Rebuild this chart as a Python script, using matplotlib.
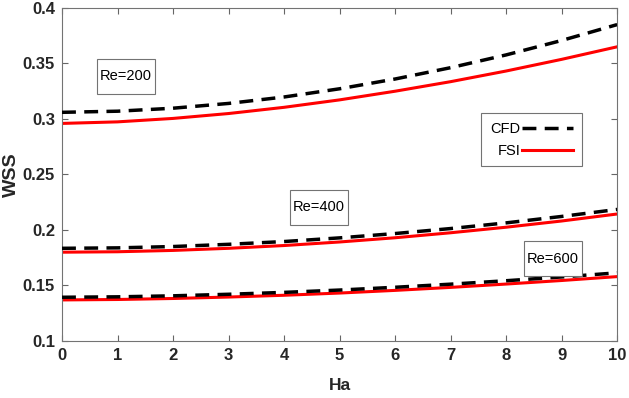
import numpy as np
import matplotlib
matplotlib.use('Agg')
import matplotlib.pyplot as plt
from matplotlib.patches import Rectangle

plt.rcParams['font.family'] = ['Liberation Sans', 'DejaVu Sans']

# ---------- Date ----------
ha = [0, 1, 2, 3, 4, 5, 6, 7, 8, 9, 10]

cfd_200 = [0.306, 0.307, 0.3097, 0.314, 0.3198, 0.3272, 0.336, 0.3462, 0.3577, 0.3707, 0.385]
fsi_200 = [0.296, 0.2974, 0.3005, 0.3049, 0.3105, 0.3172, 0.325, 0.3336, 0.3432, 0.3537, 0.365]

cfd_400 = [0.1835, 0.1839, 0.1851, 0.1871, 0.1896, 0.1929, 0.1968, 0.2013, 0.2064, 0.2122, 0.2185]
fsi_400 = [0.180, 0.1804, 0.1816, 0.1835, 0.186, 0.1892, 0.193, 0.1975, 0.2025, 0.2081, 0.2144]

cfd_600 = [0.1394, 0.1398, 0.1407, 0.1421, 0.1438, 0.1459, 0.1484, 0.1512, 0.1543, 0.1577, 0.1614]
fsi_600 = [0.137, 0.1374, 0.1383, 0.1396, 0.1412, 0.1432, 0.1456, 0.1483, 0.1513, 0.1545, 0.158]

y_ticks = [0.1, 0.15, 0.2, 0.25, 0.3, 0.35, 0.4]
y_tick_labels = ['0.1', '0.15', '0.2', '0.25', '0.3', '0.35', '0.4']
x_ticks = [0, 1, 2, 3, 4, 5, 6, 7, 8, 9, 10]

re_labels = ['Re=200', 'Re=400', 'Re=600']
re_pos = [(1.15, 0.3387), (4.63, 0.2203), (8.84, 0.1739)]

# ---------- Figura ----------
fig = plt.figure(figsize=(6.29, 3.98), dpi=100)
ax = fig.add_axes([0.0986, 0.1432, 0.8825, 0.8368])

dash = (0, (4.0, 2.4))
for cfd, fsi, i in [(cfd_200, fsi_200, 0), (cfd_400, fsi_400, 1), (cfd_600, fsi_600, 2)]:
    ax.plot(ha, fsi, color='red', lw=2.2, label='FSI' if i == 0 else None, zorder=2)
    ax.plot(ha, cfd, color='black', lw=2.5, linestyle=dash,
            label='CFD' if i == 0 else None, zorder=3)

ax.set_xlim(0, 10)
ax.set_ylim(0.1, 0.4)
ax.set_xticks(x_ticks)
ax.set_yticks(y_ticks)
ax.set_yticklabels(y_tick_labels)
for lbl in ax.get_xticklabels() + ax.get_yticklabels():
    lbl.set_fontweight('bold')
    lbl.set_fontsize(12)
ax.tick_params(direction='in', length=4, top=True, right=True,
               color='0.4', labelcolor='0.15', pad=5)
for s in ax.spines.values():
    s.set_color('0.45')
    s.set_linewidth(0.8)

ax.set_xlabel('Ha', fontsize=12.5, fontweight='bold', color='0.15')
ax.xaxis.set_label_coords(0.5, -0.11)
ax.set_ylabel('WSS', fontsize=14, fontweight='bold', color='0.15')
ax.yaxis.set_label_coords(-0.075, 0.5)

# ---------- Etichete Re (casete) ----------
bw, bh = 58 / 55.5, 35 / 1110.0   # dimensiune caseta ~58x35 px
for txt, (cx, cy) in zip(re_labels, re_pos):
    ax.add_patch(Rectangle((cx - bw / 2, cy - bh / 2), bw, bh, facecolor='white',
                           edgecolor='0.45', lw=0.8, zorder=4))
    ax.text(cx, cy, txt, fontsize=10.5, ha='center', va='center', zorder=5)

# ---------- Legenda ----------
handles, labels = ax.get_legend_handles_labels()
order = [labels.index('CFD'), labels.index('FSI')]
leg = ax.legend([handles[k] for k in order], [labels[k] for k in order],
                loc='upper right', bbox_to_anchor=(0.937, 0.685),
                markerfirst=False, fontsize=10.5, handlelength=3.5,
                handletextpad=0.15, labelspacing=0.55, borderpad=0.6,
                borderaxespad=0, fancybox=False, framealpha=1, edgecolor='0.45')
leg.get_frame().set_linewidth(0.8)

plt.savefig('out.png', dpi=100)
